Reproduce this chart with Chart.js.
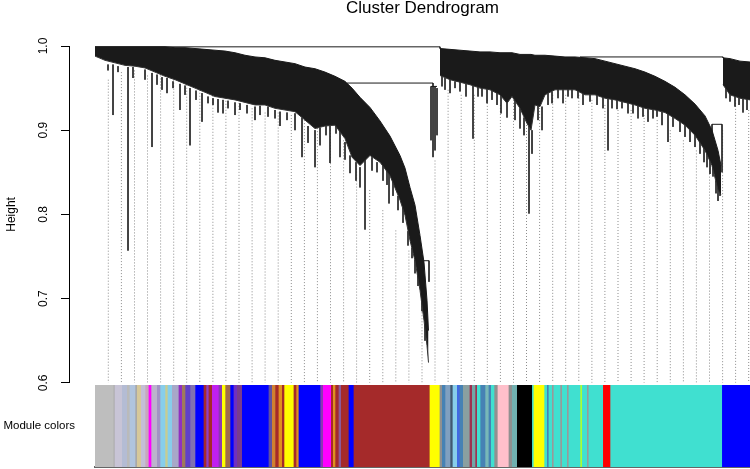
<!DOCTYPE html>
<html>
<head>
<meta charset="utf-8">
<title>Cluster Dendrogram</title>
<script src="https://cdn.jsdelivr.net/npm/chart.js@4.4.1/dist/chart.umd.min.js"></script>
<style>
  html, body { margin: 0; padding: 0; background: #fff; }
  #wrap { position: relative; width: 750px; height: 469px; overflow: hidden; }
  #dendro { position: absolute; left: 0; top: 0; }
  #colors { position: absolute; left: 0; top: 384px; }
</style>
</head>
<body>
<div id="wrap">
  <canvas id="dendro" width="750" height="399"></canvas>
  <canvas id="colors" width="750" height="85"></canvas>
</div>
<script>
// Leaf order runs 0..655 (left to right); heights are 1 - correlation.

// Dense black body of each cluster: branch-top envelope and lower edge
const leftX = [0, 10, 20, 30, 40, 50, 60, 70, 80, 90, 100, 110, 120, 130, 140, 150, 160, 170, 180, 190,
  200, 210, 220, 230, 240, 250, 257, 265, 275, 285, 295, 305, 310, 315, 320, 325, 329, 332, 333.5];
const leftTop = [.999, .999, .999, .999, .999, .999, .999, .999, .998, .998, .997, .996, .995, .994, .992,
  .989, .987, .986, .983, .981, .979, .975, .973, .969, .964, .958, .950, .939, .927, .911, .893, .870,
  .855, .832, .811, .775, .743, .698, .662];
const leftLow = [.988, .983, .980, .977, .976, .974, .969, .964, .960, .955, .950, .945, .940, .938, .936,
  .933, .930, .930, .926, .924, .922, .912, .902, .905, .906, .890, .868, .858, .870, .862, .846, .817,
  .799, .769, .745, .710, .674, .644, .624];

const rightX = [345, 355, 365, 375, 385, 395, 405, 412, 417, 425, 432, 436, 440, 445, 450, 460, 470, 480,
  490, 500, 510, 520, 530, 540, 550, 560, 570, 580, 590, 600, 610, 617, 623, 626];
const rightTop = [.997, .996, .995, .994, .993, .993, .992, .992, .992, .990, .990, .990, .989, .989, .989,
  .988, .987, .987, .986, .985, .982, .979, .976, .973, .969, .964, .958, .951, .942, .931, .917, .900,
  .876, .858];
const rightLow = [.965, .960, .957, .954, .950, .948, .942, .932, .940, .926, .908, .900, .930, .928, .942,
  .948, .948, .948, .942, .942, .938, .936, .933, .930, .926, .924, .921, .914, .906, .894, .876, .858,
  .829, .823];

const tailX = [628, 635, 645, 655];
const tailTop = [.986, .985, .982, .981];
const tailLow = [.954, .942, .938, .936];

// Single hanging branches (leaves) below the dense bodies
const branchX = [13, 18, 23, 33, 38, 50, 57, 62, 67, 72, 78, 85, 90, 95, 101, 107, 113, 118, 123, 128,
  133, 140, 145, 152, 160, 165, 173, 180, 185, 192, 200, 207, 213, 220, 225, 231, 235, 241, 245, 250,
  255, 261, 265, 270, 277, 282, 288, 292, 294, 298, 303, 308, 313, 317, 320, 323, 327, 330,
  328, 334, 336, 338, 340, 342, 345,
  347, 350, 355, 360, 365, 371, 378, 383, 387, 392, 397, 402, 406, 412, 420, 425, 429, 434, 435, 437,
  443, 447, 453, 457, 463, 468, 473, 477, 483, 488, 495, 502, 508, 513, 517, 522, 527, 533, 538, 543,
  548, 553, 558, 562, 567, 573, 578, 585, 590, 595, 600, 605, 609, 612, 615, 617, 618, 621, 623, 625,
  627, 628, 631, 635, 640, 644, 648, 652];
const branchTop = [.978, .978, .976, .975, .975, .972, .968, .966, .963, .962, .958, .955, .953, .950,
  .947, .944, .940, .938, .937, .936, .935, .933, .932, .930, .928, .929, .928, .924, .922, .921, .920,
  .915, .905, .900, .903, .906, .906, .906, .905, .886, .870, .862, .856, .866, .868, .862, .860, .852,
  .850, .840, .822, .808, .780, .760, .746, .730, .700, .670,
  .745, .745, .952, .956, .952, .950, .999,
  .965, .962, .961, .958, .958, .956, .954, .952, .951, .950, .949, .946, .944, .934, .940, .926, .915,
  .905, .950, .900, .930, .928, .944, .946, .950, .950, .950, .950, .948, .945, .944, .942, .940, .939,
  .938, .937, .935, .933, .932, .930, .928, .927, .926, .925, .922, .920, .917, .912, .908, .902, .896,
  .888, .880, .872, .866, .907, .858, .840, .834, .830,
  .907, .987, .950, .945, .941, .940, .940, .938];
const branchLow = [.971, .918, .969, .757, .962, .960, .880, .954, .948, .944, .950, .924, .942, .882,
  .936, .910, .932, .930, .921, .920, .926, .918, .924, .920, .912, .918, .916, .914, .905, .912, .900,
  .868, .885, .856, .882, .894, .861, .896, .868, .865, .849, .840, .832, .782, .852, .850, .840, .835,
  .813, .822, .805, .790, .763, .748, .730, .715, .685, .650,
  .736, .720, .888, .868, .876, .894, .997,
  .952, .948, .944, .950, .946, .940, .890, .940, .940, .932, .936, .930, .920, .915, .912, .902, .894,
  .801, .930, .872, .912, .900, .930, .932, .938, .932, .940, .938, .938, .930, .934, .930, .926, .876,
  .926, .925, .926, .920, .920, .914, .916, .910, .914, .916, .906, .886, .904, .898, .892, .886, .880,
  .872, .862, .856, .848, .895, .845, .825, .816, .822,
  .850, .986, .938, .934, .928, .930, .921, .924];

// Horizontal joins
const linkStart = [0, 252, 485, 617, 328, 430, 336];
const linkEnd = [345, 338, 628, 627, 334, 435, 342];
const linkHeight = [.999, .956, .987, .907, .745, .950, .952];

// Dotted guide lines hanging from the leaves
const guideX = [13.3, 26.4, 39.5, 52.5, 65.6, 78.7, 91.7, 104.8, 117.9, 130.9, 144.0, 157.1, 170.1, 183.2,
  196.3, 209.4, 222.4, 235.5, 248.6, 261.6, 274.7, 287.8, 300.8, 313.9, 327.0, 340.0, 353.1, 366.2,
  379.3, 392.3, 405.4, 418.5, 431.5, 444.6, 457.7, 470.7, 483.8, 496.9, 509.9, 523.0, 536.1, 549.1,
  562.2, 575.3, 588.4, 601.4, 614.5, 627.6, 640.6, 653.7];
const guideTop = [.960, .969, .971, .965, .965, .960, .954, .948, .948, .942, .936, .926, .921, .921,
  .918, .912, .906, .900, .888, .858, .829, .805, .781, .757, .698, .864, .948, .942, .942, .936, .930,
  .936, .924, .930, .942, .942, .942, .936, .930, .924, .924, .918, .912, .900, .888, .876, .852, .900,
  .936, .924];
const guideBase = 0.6;

// Module colour strip: start of each run along the leaf order
const moduleStart = [0, 18.3, 19.3, 26.7, 31.7, 34.3, 40, 41.7, 45.7, 50, 53.3, 56, 61.7, 65, 70, 72.3,
  76.7, 83.3, 86.7, 90, 95, 100, 108.3, 111, 113.3, 116.7, 123.3, 126.7, 130, 135, 138.3, 141.7, 146.7,
  173.3, 176.7, 180, 183.3, 186.7, 189, 198.3, 201, 203.3, 225, 227.7, 235.7, 237.7, 240, 243.3, 245.7,
  253.3, 258.3, 334.3, 344.3, 346.7, 350, 355, 357.3, 361.7, 364.3, 367.7, 374.3, 376.7, 380, 381.7,
  385, 390, 393.3, 395.7, 399, 402.3, 413.3, 416.7, 421.7, 436.7, 438.3, 449, 451.7, 453.3, 456.7,
  458.3, 465, 466.7, 471.7, 473.3, 485, 486.7, 491.7, 493.3, 507.7, 515, 626.7];
const moduleColor = ['#bebebe', '#a9a9a9', '#c8c4d6', '#b4bcd4', '#bababa', '#b0c4de', '#a8a8a8',
  '#d6c89a', '#c4bfd6', '#c6a8bc', '#ff00ff', '#bcb4cc', '#a294c4', '#87ceeb', '#c8cc90', '#87ceeb',
  '#a8a8c8', '#9030c0', '#a07a5a', '#6040c8', '#8070b0', '#0000ff', '#a52a2a', '#9040c0', '#a52a2a',
  '#c020f0', '#8a3ab0', '#ffff00', '#a06a4a', '#0000ff', '#7030c0', '#7a3c8c', '#0000ff', '#6050a0',
  '#d08030', '#a52a2a', '#e09020', '#a52a2a', '#ffff00', '#a52a2a', '#e09020', '#0000ff', '#8a3ab0',
  '#ff00ff', '#a52a2a', '#e09020', '#a52a2a', '#8a5a9a', '#a52a2a', '#0000ff', '#a52a2a', '#ffff00',
  '#909090', '#4682b4', '#80a0c0', '#405870', '#87ceeb', '#4169e1', '#4682b4', '#8aa0a0', '#a03050',
  '#70a8a8', '#a03050', '#40e0d0', '#4682b4', '#78b8b8', '#4682b4', '#40e0d0', '#909090', '#ffc0cb',
  '#909090', '#70b0b0', '#000000', '#40e0d0', '#ffff00', '#40e0d0', '#4682b4', '#40e0d0', '#999999',
  '#40e0d0', '#999999', '#40e0d0', '#999999', '#40e0d0', '#adff2f', '#40e0d0', '#999999', '#40e0d0',
  '#ff0000', '#40e0d0', '#0000ff'];
const leafEnd = 655;

Chart.defaults.font.family = '"Liberation Sans", Arial, Helvetica, sans-serif';
Chart.defaults.color = '#000';

function path(xs, ys) {
  return xs.map((x, i) => ({ x: x, y: ys[i] }));
}

// vertical pieces, split by null points
function verticals(xs, tops, lows) {
  const pts = [];
  xs.forEach((x, i) => {
    pts.push({ x: x, y: tops[i] }, { x: x, y: lows[i] }, { x: x, y: null });
  });
  return pts;
}

function horizontals(starts, ends, hs) {
  const pts = [];
  starts.forEach((s, i) => {
    pts.push({ x: s, y: hs[i] }, { x: ends[i], y: hs[i] }, { x: ends[i], y: null });
  });
  return pts;
}

const ink = '#1a1a1a';
const lineBase = { pointRadius: 0, tension: 0, spanGaps: false, fill: false };

function clusterBody(xs, tops, lows) {
  return [
    Object.assign({}, lineBase, { data: path(xs, tops), borderColor: ink, borderWidth: 1 }),
    Object.assign({}, lineBase, { data: path(xs, lows), borderColor: '#333', borderWidth: 1,
      fill: '-1', backgroundColor: ink })
  ];
}

const dendroSets = []
  .concat(clusterBody(leftX, leftTop, leftLow))
  .concat(clusterBody(rightX, rightTop, rightLow))
  .concat(clusterBody(tailX, tailTop, tailLow))
  .concat([
    Object.assign({}, lineBase, { data: horizontals(linkStart, linkEnd, linkHeight),
      borderColor: ink, borderWidth: 1 }),
    Object.assign({}, lineBase, { data: verticals(branchX, branchTop, branchLow),
      borderColor: '#2a2a2a', borderWidth: 1 }),
    Object.assign({}, lineBase, { data: verticals(guideX, guideTop, guideX.map(() => guideBase)),
      borderColor: '#8c8c8c', borderWidth: 1, borderDash: [1, 2] })
  ]);

const titlePlugin = {
  id: 'mainTitle',
  afterDraw(chart) {
    const ctx = chart.ctx;
    const x = chart.scales.x.getPixelForValue(leafEnd / 2);
    ctx.save();
    ctx.font = '17px "Liberation Sans", Arial, sans-serif';
    ctx.fillStyle = '#000';
    ctx.textAlign = 'center';
    ctx.textBaseline = 'alphabetic';
    ctx.fillText('Cluster Dendrogram', x, 13);
    ctx.restore();
  }
};

new Chart(document.getElementById('dendro'), {
  type: 'line',
  data: { datasets: dendroSets },
  plugins: [titlePlugin],
  options: {
    responsive: false,
    animation: false,
    events: [],
    layout: { padding: { top: 46, bottom: 0, left: 0, right: 0 } },
    plugins: { legend: { display: false }, tooltip: { enabled: false } },
    scales: {
      x: { type: 'linear', display: false, min: -26, max: leafEnd },
      y: {
        min: 0.6,
        max: 1.0,
        afterFit: function(scale) { scale.width = 69; },
        border: { display: true, color: '#000', width: 1 },
        grid: { drawOnChartArea: false, tickLength: 8, color: '#000', tickColor: '#000' },
        ticks: {
          stepSize: 0.1,
          minRotation: 90,
          maxRotation: 90,
          crossAlign: 'center',
          padding: 9,
          font: { size: 12 },
          color: '#000',
          callback: function(value) { return value.toFixed(1); }
        },
        title: { display: true, text: 'Height', font: { size: 12 }, color: '#000',
          padding: { top: 4, bottom: 0 } }
      }
    }
  }
});

// Colour strip below the tree
const colorSets = moduleStart.map((s, i) => ({
  data: [[s, i + 1 < moduleStart.length ? moduleStart[i + 1] : leafEnd]],
  backgroundColor: moduleColor[i],
  borderWidth: 0,
  grouped: false,
  barPercentage: 1,
  categoryPercentage: 1
}));

function flatAxis(scale) { scale.height = 0; }

new Chart(document.getElementById('colors'), {
  type: 'bar',
  data: { labels: ['Module colors'], datasets: colorSets },
  options: {
    indexAxis: 'y',
    responsive: false,
    animation: false,
    events: [],
    layout: { padding: { top: 1, bottom: 2, left: 0, right: 0 } },
    plugins: { legend: { display: false }, tooltip: { enabled: false } },
    scales: {
      x: {
        type: 'linear', min: 0, max: leafEnd, position: 'bottom',
        afterFit: flatAxis,
        grid: { display: false }, ticks: { display: false },
        border: { display: true, color: '#666', width: 2 }
      },
      xTop: {
        type: 'linear', min: 0, max: leafEnd, position: 'top',
        afterFit: flatAxis,
        grid: { display: false }, ticks: { display: false },
        border: { display: true, color: '#777', width: 1 }
      },
      y: {
        afterFit: function(scale) {
          scale.width = 95;
          scale.paddingTop = 0;
          scale.paddingBottom = 0;
        },
        grid: { display: false, drawTicks: false },
        border: { display: false },
        ticks: { padding: 20, font: { size: 11.5 }, color: '#000' }
      }
    }
  }
});
</script>
</body>
</html>
